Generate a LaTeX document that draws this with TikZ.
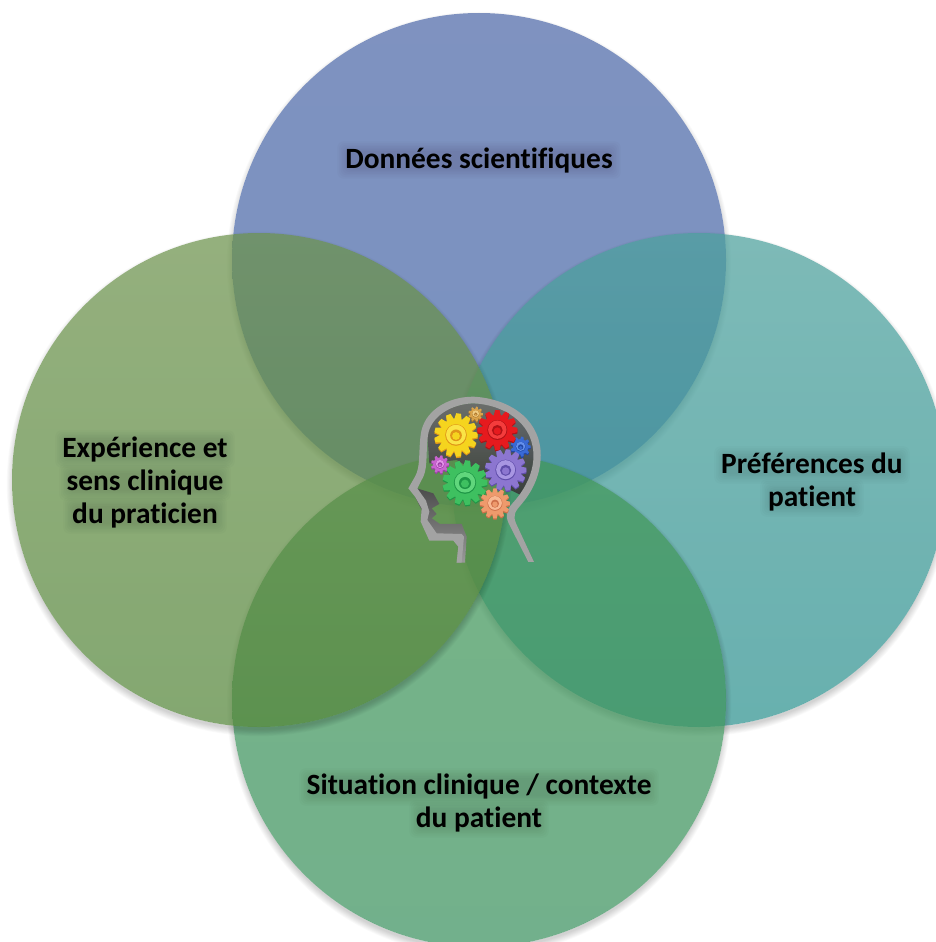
\documentclass[tikz,border=0pt]{standalone}
\usepackage{fontspec}
\setmainfont[Ligatures=NoCommon]{Carlito}
\usetikzlibrary{calc}
\pgfdeclarelayer{front}
\pgfsetlayers{main,front}
\definecolor{cBlueA}{RGB}{78,104,168}
\definecolor{cBlueB}{RGB}{70,104,170}
\definecolor{cOliveA}{RGB}{108,146,76}
\definecolor{cOliveB}{RGB}{84,134,58}
\definecolor{cTealA}{RGB}{76,160,156}
\definecolor{cTealB}{RGB}{46,146,144}
\definecolor{cGreenA}{RGB}{66,152,88}
\definecolor{cGreenB}{RGB}{60,146,96}
\definecolor{gYellow}{RGB}{245,212,30}\definecolor{gYellowD}{RGB}{224,150,24}\definecolor{gYellowL}{RGB}{250,228,70}
\definecolor{gRed}{RGB}{230,26,30}\definecolor{gRedD}{RGB}{176,18,22}\definecolor{gRedL}{RGB}{244,60,60}
\definecolor{gGreen}{RGB}{62,192,96}\definecolor{gGreenD}{RGB}{30,150,70}\definecolor{gGreenL}{RGB}{96,214,124}
\definecolor{gPurple}{RGB}{140,118,208}\definecolor{gPurpleD}{RGB}{96,78,170}\definecolor{gPurpleL}{RGB}{168,150,226}
\definecolor{gSalmon}{RGB}{238,154,108}\definecolor{gSalmonD}{RGB}{206,112,74}\definecolor{gSalmonL}{RGB}{248,184,146}
\definecolor{gMagenta}{RGB}{200,100,208}\definecolor{gMagentaD}{RGB}{156,62,166}\definecolor{gMagentaL}{RGB}{226,146,232}
\definecolor{gBlue}{RGB}{58,106,214}\definecolor{gBlueD}{RGB}{32,70,164}\definecolor{gBlueL}{RGB}{100,144,236}
\definecolor{gOrange}{RGB}{218,164,76}\definecolor{gOrangeD}{RGB}{170,116,44}\definecolor{gOrangeL}{RGB}{240,204,130}
\tikzset{
  petal/.style={opacity=.72},
  lab/.style={font=\fontsize{29.4}{33}\selectfont\bfseries,text=black,align=center,inner sep=0pt},
  band/.style={fill=black!36,even odd rule},
}
% soft drop shadow outside one disc
\newcommand{\discshadow}[2]{%
  \begin{scope}[even odd rule]
    \clip (-10,-10) rectangle (946,952) (#1,#2) circle (247);
    \foreach \k in {1,...,9}{\fill[black,opacity=.02,nonzero rule] (#1,#2+4) circle ({247+\k*.8-2});}
  \end{scope}}
% soft dark band behind a text line
\newcommand{\halo}[3]{%
  \foreach \k in {0,...,6}{%
    \fill[black,opacity=.014,rounded corners=6pt] ({#1-#3-\k*1.6},{#2-9-\k*1.6+2}) rectangle ({#1+#3+\k*1.6},{#2+9+\k*1.6+2});}}
% \gearshape{x}{y}{outer radius}{teeth}{main}{dark}{rim}
\newcommand{\gearshape}[7]{%
  \begin{scope}[shift={(#1,#2)}]
    \foreach \off/\col in {4/#6,0/#5}{%
      \begin{scope}[shift={(0,\off)}]
        \fill[\col] (0,0) circle ({#3*.76});
        \pgfmathsetmacro{\stepang}{360/#4}
        \foreach \k in {1,...,#4}{%
          \fill[\col,rotate={\k*\stepang}]
            ({#3*.72},{-#3*.17}) -- ({#3},{-#3*.11}) -- ({#3},{#3*.11}) -- ({#3*.72},{#3*.17}) -- cycle;
        }
      \end{scope}}
    \fill[#6] (0,0) circle ({#3*.50});
    \fill[#7] (0,-1) circle ({#3*.46});
    \fill[#6] (0,1) circle ({#3*.27});
    \fill[#5] (0,3) circle ({#3*.18});
  \end{scope}}
\begin{document}
\begin{tikzpicture}[x=1pt,y=-1pt]
\useasboundingbox (0,0) rectangle (936,942);
\clip (0,0) rectangle (936,942);
\fill[white] (0,0) rectangle (936,942);
\discshadow{479}{260}
\shade[petal,top color=cBlueA,bottom color=cBlueB] (479,260) circle (247);
\discshadow{699}{480}
\shade[petal,top color=cTealA,bottom color=cTealB] (699,480) circle (247);
\discshadow{479}{700}
\shade[petal,top color=cGreenA,bottom color=cGreenB] (479,700) circle (247);
\discshadow{259}{480}
\shade[petal,top color=cOliveA,bottom color=cOliveB] (259,480) circle (247);
% head
\begin{scope}[shift={(390,380)},x=.3333pt,y=-.3333pt]
  \shade[top color=black!58,bottom color=black!78,opacity=.92] (118,250) -- (112,160) .. controls (120,110) and (170,80) .. (240,70)
     .. controls (320,70) and (420,100) .. (432,215) .. controls (435,260) and (420,310) .. (392,345)
     -- (300,300) -- (200,240) -- cycle;
  \fill[black!55] (350,400) -- (415,546) -- (432,546) -- (372,420) -- cycle;
  \shade[top color=black!70,bottom color=black!40] (80,325) -- (130,340) -- (148,372) -- (125,385) -- (140,402) -- (125,415) -- (150,432) -- (215,432) -- (230,470) -- (225,548) -- (200,548) -- (205,500) -- (190,480) -- (120,480) -- (95,430) -- (95,390) -- (75,350) -- cycle;
  \path[band]
    (432,546) -- (378,430) .. controls (368,405) and (375,395) .. (395,372)
    .. controls (435,325) and (455,270) .. (452,215)
    .. controls (445,110) and (350,55) .. (250,50)
    .. controls (170,50) and (100,95) .. (92,165)
    .. controls (85,220) and (92,260) .. (75,290)
    -- (55,325) -- (75,350) -- (95,385) -- (92,425) -- (118,482) -- (190,482) -- (205,500) -- (200,548) -- (215,548) -- (222,470) -- (215,462) -- (140,460) -- (112,420) -- (118,395) -- (108,362) -- (82,325)
    -- (100,290) .. controls (114,260) and (107,210) .. (114,165)
    .. controls (122,112) and (180,72) .. (250,70)
    .. controls (340,74) and (423,125) .. (430,215)
    .. controls (434,265) and (413,315) .. (378,358)
    .. controls (353,385) and (343,400) .. (356,430) -- (415,546) -- cycle;
  \gearshape{150}{253}{27}{9}{gMagenta}{gMagentaD}{gMagentaL}
  \gearshape{392}{200}{30}{9}{gBlue}{gBlueD}{gBlueL}
  \gearshape{257}{102}{22}{9}{gOrange}{gOrangeD}{gOrangeL}
  \gearshape{198}{165}{65}{13}{gYellow}{gYellowD}{gYellowL}
  \gearshape{322}{150}{60}{12}{gRed}{gRedD}{gRedL}
  \gearshape{347}{270}{62}{13}{gPurple}{gPurpleD}{gPurpleL}
  \gearshape{225}{308}{67}{13}{gGreen}{gGreenD}{gGreenL}
  \gearshape{315}{370}{45}{12}{gSalmon}{gSalmonD}{gSalmonL}
\end{scope}
% text halos
\halo{479}{158}{132}
\halo{145}{447}{80}
\halo{145}{480}{76}
\halo{145}{513}{72}
\halo{812}{463}{88}
\halo{812}{496}{42}
\halo{479}{785}{170}
\halo{479}{817}{60}
% labels
\begin{pgfonlayer}{front}
\node[lab] (sci) at (479,160) {Données scientifiques};
\node[lab] (exp) at (145,482) {Expérience et\\sens clinique\\du praticien};
\node[lab] (pref) at (812,482) {Préférences du\\patient};
\node[lab] (sit) at (479,803) {Situation clinique / contexte\\du patient};
\end{pgfonlayer}
\end{tikzpicture}
\end{document}
